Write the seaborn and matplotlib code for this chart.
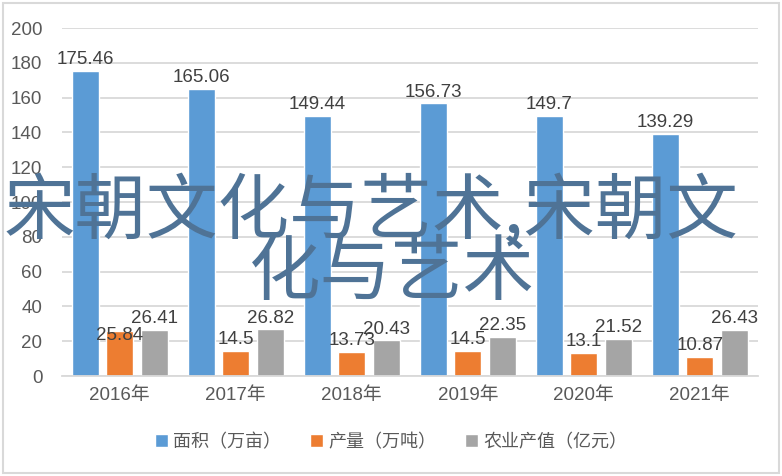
import matplotlib.pyplot as plt
import seaborn as sns
import pandas as pd

# DATA
years = ["2016年", "2017年", "2018年", "2019年", "2020年", "2021年"]
series_names = ["面积（万亩）", "产量（万吨）", "农业产值（亿元）"]
area = [175.46, 165.06, 149.44, 156.73, 149.7, 139.29]
output = [25.84, 14.5, 13.73, 14.5, 13.1, 10.87]
value = [26.41, 26.82, 20.43, 22.35, 21.52, 26.43]
overlay_line1 = "宋朝文化与艺术,宋朝文"
overlay_line2 = "化与艺术"

colors = ["#5b9bd5", "#ed7d31", "#a5a5a5"]
text_col = "#595959"

df = pd.DataFrame({
    "year": years * 3,
    "series": [s for s in series_names for _ in years],
    "val": area + output + value,
})

sns.set_theme(style="white")
plt.rcParams['font.family'] = ['Liberation Sans', 'Noto Sans CJK SC']

fig = plt.figure(figsize=(7.82, 4.76), dpi=100)
ax = fig.add_axes([0.079, 0.21, 0.890, 0.731])

sns.barplot(data=df, x="year", y="val", hue="series", palette=colors,
            width=0.89, gap=0.215, saturation=1, ax=ax, legend=True)

labels = []
for cont in ax.containers:
    labels.append(ax.bar_label(cont, labels=[f"{v:g}" for v in cont.datavalues], padding=2,
                               fontsize=13.5, color="#404040"))
# excel pushed the first orange label down onto its bar
labels[1][0].xyann = (0, -9)

ax.set_ylim(0, 200)
ax.set_xlim(-0.5, 5.5)
ax.set_yticks(range(0, 201, 20))
ax.grid(axis="y", color="#d9d9d9", linewidth=1.3)
ax.set_axisbelow(True)
ax.set_xlabel("")
ax.set_ylabel("")
for s in ["top", "right", "left"]:
    ax.spines[s].set_visible(False)
ax.spines["bottom"].set_color("#d9d9d9")
ax.spines["bottom"].set_linewidth(1.3)
ax.tick_params(axis="both", length=0, labelsize=13.5, labelcolor=text_col, pad=8)
ax.tick_params(axis="y", pad=14)

ax.legend_.remove()
fig.legend(*ax.get_legend_handles_labels(), loc="center", bbox_to_anchor=(0.5, 0.071),
           ncol=3, frameon=False, fontsize=13, handlelength=0.7, handleheight=0.7,
           handletextpad=0.3, columnspacing=1.6, labelcolor=text_col)

# outer frame
fig.patches.append(plt.Rectangle((0.004, 0.006), 0.992, 0.988, transform=fig.transFigure,
                                 fill=False, edgecolor="#d9d9d9", linewidth=1.5))

# overlay text
fig.text(0.474, 1 - 212 / 476, overlay_line1, ha="center", va="center", fontsize=51.5,
         color="#4f7396", family=['Noto Sans CJK SC', 'DejaVu Sans'])
fig.text(0.501, 1 - 273 / 476, overlay_line2, ha="center", va="center", fontsize=51.5,
         color="#4f7396", family=['Noto Sans CJK SC', 'DejaVu Sans'])

fig.savefig("out.png", dpi=100)
